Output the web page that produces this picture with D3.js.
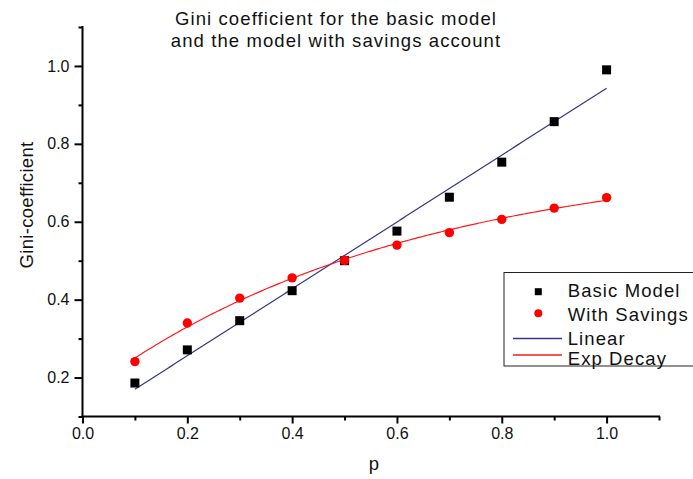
<!DOCTYPE html>
<html>
<head>
<meta charset="utf-8">
<script src="https://cdn.jsdelivr.net/npm/d3@7"></script>
<style>
  html, body { margin: 0; padding: 0; background: #fff; }
  svg { display: block; }
  text { font-family: "Liberation Sans", Arial, sans-serif; fill: #111; }
</style>
</head>
<body>
<svg id="chart" width="693" height="479"></svg>
<script>
// Probability p on the x axis
const pValues = [0.1, 0.2, 0.3, 0.4, 0.5, 0.6, 0.7, 0.8, 0.9, 1.0];
// Gini coefficient, basic model
const basicModel = [0.186, 0.271, 0.346, 0.423, 0.500, 0.576, 0.663, 0.753, 0.857, 0.990];
// Gini coefficient, model with savings account
const withSavings = [0.241, 0.340, 0.404, 0.456, 0.501, 0.540, 0.572, 0.606, 0.635, 0.662];
// Axis ticks
const xMajorTicks = [0.0, 0.2, 0.4, 0.6, 0.8, 1.0];
const xMinorTicks = [0.1, 0.3, 0.5, 0.7, 0.9, 1.1];
const yMajorTicks = [0.2, 0.4, 0.6, 0.8, 1.0];
const yMinorTicks = [0.1, 0.3, 0.5, 0.7, 0.9, 1.1];
const titleLines = ["Gini coefficient for the basic model", "and the model with savings account"];
const legendLabels = ["Basic Model", "With Savings", "Linear", "Exp Decay"];

const svg = d3.select("#chart");
const x = d3.scaleLinear().domain([0, 1.1]).range([82.5, 659]);
const y = d3.scaleLinear().domain([0.1, 1.1]).range([416.5, 27]);

const navy = "#35358a";
const red = "#ff1a1a";

// Least-squares straight line through the basic model points
function linearFit(xs, ys) {
  const mx = d3.mean(xs), my = d3.mean(ys);
  let sxy = 0, sxx = 0;
  xs.forEach((v, i) => { sxy += (v - mx) * (ys[i] - my); sxx += (v - mx) ** 2; });
  const b = sxy / sxx;
  return { a: my - b * mx, b };
}

// Least-squares y = y0 + A*exp(-x/t): scan t, solve y0 and A linearly for each
function expDecayFit(xs, ys) {
  let best = null;
  for (let t = 0.05; t <= 20; t += 0.001) {
    const e = xs.map(v => Math.exp(-v / t));
    const me = d3.mean(e), my = d3.mean(ys);
    let see = 0, sey = 0;
    e.forEach((v, i) => { see += (v - me) ** 2; sey += (v - me) * (ys[i] - my); });
    const A = sey / see, y0 = my - A * me;
    const sse = d3.sum(e, (v, i) => (y0 + A * v - ys[i]) ** 2);
    if (!best || sse < best.sse) best = { y0, A, t, sse };
  }
  return best;
}

const lin = linearFit(pValues, basicModel);
const dec = expDecayFit(pValues, withSavings);
const fitX = d3.range(0, 201).map(i => 0.1 + i * 0.9 / 200);

// Axes
const axisG = svg.append("g");
const xMajor = d3.axisBottom(x).tickValues(xMajorTicks).tickFormat(d3.format(".1f")).tickSize(7).tickPadding(4);
const xMinor = d3.axisBottom(x).tickValues(xMinorTicks).tickFormat("").tickSize(4);
const yMajor = d3.axisLeft(y).tickValues(yMajorTicks).tickFormat(d3.format(".1f")).tickSize(8).tickPadding(5);
const yMinor = d3.axisLeft(y).tickValues(yMinorTicks).tickFormat("").tickSize(4);

function styleAxis(g) {
  g.select(".domain").remove();
  g.selectAll(".tick line").attr("stroke", "#000").attr("stroke-width", 2);
  g.selectAll(".tick text").style("font-size", "16px").attr("fill", "#222");
}

axisG.append("g").attr("transform", `translate(0,${y(0.1)})`).call(xMinor).call(styleAxis);
axisG.append("g").attr("transform", `translate(0,${y(0.1)})`).call(xMajor).call(styleAxis);
axisG.append("g").attr("transform", `translate(${x(0)},0)`).call(yMinor).call(styleAxis);
axisG.append("g").attr("transform", `translate(${x(0)},0)`).call(yMajor).call(styleAxis);

axisG.append("line").attr("x1", x(0) - 1).attr("x2", x(1.1) + 1)
  .attr("y1", y(0.1)).attr("y2", y(0.1)).attr("stroke", "#000").attr("stroke-width", 2);
axisG.append("line").attr("x1", x(0)).attr("x2", x(0))
  .attr("y1", y(1.1) - 1).attr("y2", y(0.1) + 1).attr("stroke", "#000").attr("stroke-width", 2);

// Fitted curves
const line = d3.line().x(d => x(d[0])).y(d => y(d[1]));
svg.append("path")
  .attr("d", line(fitX.map(v => [v, lin.a + lin.b * v])))
  .attr("fill", "none").attr("stroke", navy).attr("stroke-width", 1.2);
svg.append("path")
  .attr("d", line(fitX.map(v => [v, dec.y0 + dec.A * Math.exp(-v / dec.t)])))
  .attr("fill", "none").attr("stroke", red).attr("stroke-width", 1.2);

// Data points
const sq = 9;
svg.append("g").selectAll("rect").data(pValues).join("rect")
  .attr("x", (d) => x(d) - sq / 2)
  .attr("y", (d, i) => y(basicModel[i]) - sq / 2)
  .attr("width", sq).attr("height", sq).attr("fill", "#000");
svg.append("g").selectAll("circle").data(pValues).join("circle")
  .attr("cx", d => x(d))
  .attr("cy", (d, i) => y(withSavings[i]))
  .attr("r", 4.7).attr("fill", "#ff0000");

// Title
svg.append("g").selectAll("text").data(titleLines).join("text")
  .attr("x", 336).attr("y", (d, i) => 25 + i * 22)
  .attr("text-anchor", "middle")
  .style("font-size", "18.5px").style("letter-spacing", "1.1px")
  .text(d => d);

// Axis titles
svg.append("text").attr("x", 374).attr("y", 470).attr("text-anchor", "middle")
  .style("font-size", "18.5px").text("p");
svg.append("text").attr("transform", "translate(33,205) rotate(-90)")
  .attr("text-anchor", "middle").style("font-size", "18.5px").style("letter-spacing", "0.3px")
  .text("Gini-coefficient");

// Legend
const lg = svg.append("g");
lg.append("rect").attr("x", 504).attr("y", 272.5).attr("width", 200).attr("height", 93.5)
  .attr("fill", "#fff").attr("stroke", "#222").attr("stroke-width", 1);
const rowY = [291.7, 313.3, 338.5, 355];
const textY = [297.3, 321, 345, 365];
lg.append("rect").attr("x", 538.3 - 3.5).attr("y", rowY[0] - 3.5).attr("width", 7).attr("height", 7).attr("fill", "#000");
lg.append("circle").attr("cx", 538.3).attr("cy", rowY[1]).attr("r", 4).attr("fill", "#ff0000");
lg.append("line").attr("x1", 513).attr("x2", 562).attr("y1", rowY[2]).attr("y2", rowY[2])
  .attr("stroke", navy).attr("stroke-width", 1.3);
lg.append("line").attr("x1", 513).attr("x2", 562).attr("y1", rowY[3]).attr("y2", rowY[3])
  .attr("stroke", red).attr("stroke-width", 1.3);
lg.selectAll("text.lbl").data(legendLabels).join("text").attr("class", "lbl")
  .attr("x", 567.7).attr("y", (d, i) => textY[i])
  .style("font-size", "18.5px").style("letter-spacing", "1.1px")
  .text(d => d);
</script>
</body>
</html>
